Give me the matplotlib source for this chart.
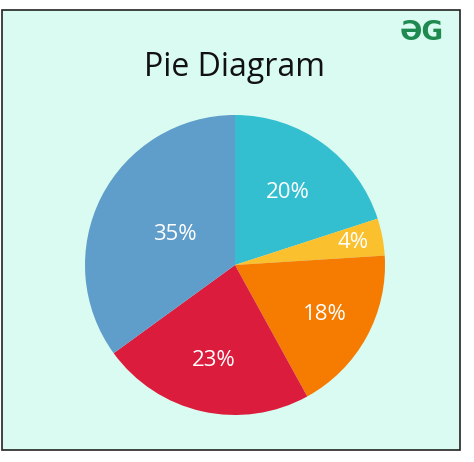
import numpy as np
import matplotlib.pyplot as plt
from matplotlib.patches import Rectangle

labels = ["A", "B", "C", "D", "E"]
values = [20, 4, 18, 23, 35]
colors = ["#34BFD0", "#FBC02D", "#F57C00", "#DC1C3C", "#5F9DCA"]
label_r = [0.6, 0.8, 0.68, 0.65, 0.45]

W, H = 474, 462
fig = plt.figure(figsize=(W/100, H/100), dpi=100)
fig.patch.set_facecolor("white")
fig.patches.append(Rectangle((2/W, 1-450/H), 458/W, 440/H, transform=fig.transFigure,
                             facecolor="#DAFBF1", edgecolor="#222222", lw=1.2, zorder=-10))
fig.text(235/W, 1-68/H, "Pie Diagram", ha="center", va="center", fontsize=23,
         family="Open Sans", color="#111111")
fig.text(422/W, 1-33/H, "ƏG", ha="center", va="center", fontsize=19,
         fontweight="bold", color="#1E8A4F")

ax = fig.add_axes([85/W, 1-415/H, 300/W, 300/H])
ax.set_zorder(5)
ax.patch.set_alpha(0)
wedges, texts = ax.pie(values, colors=colors, startangle=90, counterclock=False,
                       wedgeprops=dict(linewidth=0))
for w, v, r in zip(wedges, values, label_r):
    ang = np.deg2rad((w.theta1 + w.theta2) / 2)
    ax.text(r*np.cos(ang), r*np.sin(ang), f"{v}%", ha="center", va="center",
            color="white", fontsize=16, family="Open Sans")
ax.set_xlim(-1, 1); ax.set_ylim(-1, 1)
ax.set_aspect("equal")
fig.savefig("out.png", dpi=100)
